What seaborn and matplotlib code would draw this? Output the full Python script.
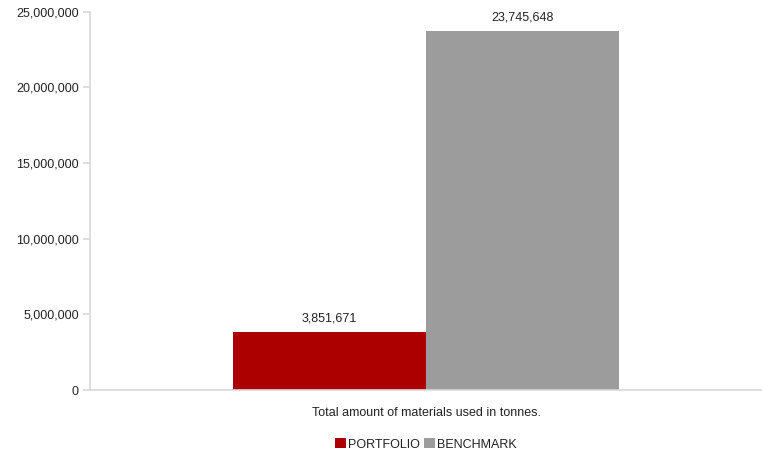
import matplotlib
matplotlib.use("Agg")
import matplotlib.pyplot as plt
import seaborn as sns
import pandas as pd
from matplotlib.ticker import FuncFormatter

categories = ["Total amount of materials used in tonnes."]
series = ["PORTFOLIO", "BENCHMARK"]
values = [3851671, 23745648]
colors = ["#ac0000", "#9c9c9c"]

df = pd.DataFrame({"category": categories * len(series), "series": series, "value": values})

sns.set_theme(style="white")
plt.rcParams['font.family'] = ['Liberation Sans', 'DejaVu Sans']

fig = plt.figure(figsize=(7.62, 4.53), dpi=100)
ax = fig.add_axes([0.118, 0.139, 0.882, 0.835])
sns.barplot(data=df, x="category", y="value", hue="series", palette=colors,
            width=0.573, saturation=1, ax=ax, legend=True, errorbar=None, linewidth=0)
for c in ax.containers:
    ax.bar_label(c, labels=[f"{v:,.0f}" for v in c.datavalues], padding=5, fontsize=9, color="#222222")

ax.set_ylim(0, 25000000)
ax.set_xlim(-0.5, 0.5)
ax.set_yticks(range(0, 25000001, 5000000))
ax.yaxis.set_major_formatter(FuncFormatter(lambda v, p: f"{v:,.0f}"))
ax.tick_params(axis="y", left=True, length=5, color="#d9d9d9", labelsize=9, labelcolor="#222222", pad=3)
ax.tick_params(axis="x", bottom=False, labelsize=9, labelcolor="#222222", pad=6)
ax.set_xlabel("")
ax.set_ylabel("")
for s in ["top", "right"]:
    ax.spines[s].set_visible(False)
for s in ["left", "bottom"]:
    ax.spines[s].set_color("#d9d9d9")
    ax.spines[s].set_linewidth(1.2)

handles, labels = ax.get_legend_handles_labels()
ax.legend(handles, labels, loc="upper center", bbox_to_anchor=(0.5, -0.105), ncol=2, frameon=False,
          fontsize=9, handlelength=0.85, handleheight=0.85, handletextpad=0.2, columnspacing=0.3,
          labelcolor="#222222", borderpad=0.2)

fig.savefig("out.png", dpi=100)
